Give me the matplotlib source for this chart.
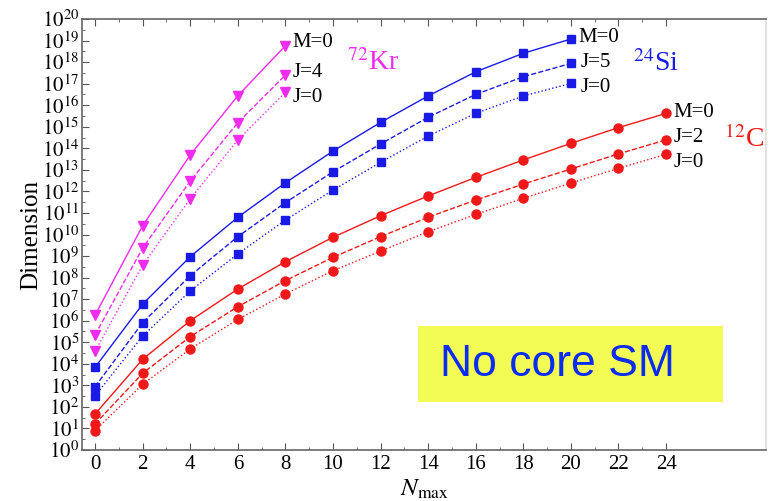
import numpy as np
import matplotlib
matplotlib.use('Agg')
import matplotlib.pyplot as plt
from matplotlib.patches import Rectangle
from matplotlib.ticker import FixedLocator, NullFormatter

plt.rcParams['font.family'] = ['Liberation Serif', 'DejaVu Serif']
plt.rcParams['mathtext.fontset'] = 'stix'

# N_max values
nmax_kr = [0, 2, 4, 6, 8]
nmax_si = [0, 2, 4, 6, 8, 10, 12, 14, 16, 18, 20]
nmax_c = [0, 2, 4, 6, 8, 10, 12, 14, 16, 18, 20, 22, 24]

# log10(dimension)
kr_m0 = [6.26, 10.41, 13.69, 16.44, 18.76]
kr_j4 = [5.34, 9.37, 12.48, 15.19, 17.40]
kr_j0 = [4.59, 8.58, 11.66, 14.38, 16.60]

si_m0 = [3.84, 6.77, 8.97, 10.80, 12.40, 13.87, 15.20, 16.43, 17.55, 18.41, 19.07]
si_j5 = [2.94, 5.91, 8.09, 9.90, 11.48, 12.91, 14.20, 15.44, 16.50, 17.32, 17.94]
si_j0 = [2.52, 5.29, 7.38, 9.10, 10.67, 12.06, 13.35, 14.57, 15.62, 16.43, 17.01]

c_m0 = [1.67, 4.21, 6.00, 7.47, 8.74, 9.87, 10.87, 11.79, 12.65, 13.46, 14.23, 14.96, 15.62]
c_j2 = [1.21, 3.56, 5.26, 6.65, 7.86, 8.94, 9.90, 10.80, 11.60, 12.34, 13.04, 13.74, 14.39]
c_j0 = [0.90, 3.05, 4.69, 6.06, 7.24, 8.32, 9.23, 10.13, 10.93, 11.68, 12.39, 13.07, 13.72]

fig = plt.figure(figsize=(7.69, 5.01), dpi=100)
ax = fig.add_axes([82/769, 1-450/501, (766-82)/769, (450-19)/501])

def draw(x, ys, color, marker, ms):
    for y, ls in zip(ys, ['-', '--', ':']):
        ax.plot(x, 10.0**np.array(y), color=color, ls=ls, lw=1.0,
                marker=marker, ms=ms, mec=color, mfc=color)

draw(nmax_kr, [kr_m0, kr_j4, kr_j0], '#f02cf0', 'v', 6.5)
draw(nmax_si, [si_m0, si_j5, si_j0], '#1a1ae6', 's', 5.5)
draw(nmax_c, [c_m0, c_j2, c_j0], '#f01818', 'o', 6.5)

ax.set_yscale('log')
ax.set_ylim(1, 1e20)
ax.set_xlim(-0.55, 28.2)
ax.yaxis.set_major_locator(FixedLocator([10.0**k for k in range(21)]))
ax.set_yticklabels(['$10^{%d}$' % k for k in range(21)])
ax.yaxis.set_minor_locator(FixedLocator([10.0**(k + 0.5) for k in range(20)]))
ax.yaxis.set_minor_formatter(NullFormatter())
ax.set_xticks(range(0, 25, 2))
ax.set_xticks(range(1, 25, 2), minor=True)
ax.tick_params(axis='both', which='major', labelsize=15, direction='in', length=5,
               top=True, right=False, color='#555555')
ax.tick_params(axis='both', which='minor', direction='in', length=2.5, top=True,
               right=False, color='#555555')
ax.tick_params(axis='y', pad=2)
for s in ax.spines.values():
    s.set_color('#666666')
    s.set_linewidth(1.2)
ax.spines['right'].set_color('#dddddd')

ax.set_ylabel('Dimension', fontsize=18, labelpad=0)
ax.set_xlabel('$N_{\\rm max}$', fontsize=18, labelpad=3)

# state labels
lab = dict(fontsize=15, color='black', va='center', ha='left')
ax.text(8.3, 10**18.93, 'M=0', **lab)
ax.text(8.3, 10**17.54, 'J=4', **lab)
ax.text(8.3, 10**16.38, 'J=0', **lab)
ax.text(20.3, 10**19.15, 'M=0', **lab)
ax.text(20.4, 10**17.98, 'J=5', **lab)
ax.text(20.4, 10**16.84, 'J=0', **lab)
ax.text(24.3, 10**15.64, 'M=0', **lab)
ax.text(24.3, 10**14.48, 'J=2', **lab)
ax.text(24.3, 10**13.36, 'J=0', **lab)

ax.text(10.6, 10**18.0, '$^{72}$Kr', fontsize=20, color='#f02cf0', va='center')
ax.text(22.6, 10**17.95, '$^{24}$Si', fontsize=20, color='#1a1ae6', va='center')
ax.text(26.45, 10**14.4, '$^{12}$C', fontsize=20, color='#f01818', va='center')

# yellow note box
fig.patches.append(Rectangle((418/769, 1-402/501), (723-418)/769, (402-326)/501,
                             transform=fig.transFigure, fc='#f2fc55', ec='none', zorder=5))
fig.text(440/769, 1-364/501, 'No core SM', fontsize=32, color='#0a2cf0',
         family='Liberation Sans', va='center', ha='left', zorder=6)

fig.savefig('out.png', dpi=100)
